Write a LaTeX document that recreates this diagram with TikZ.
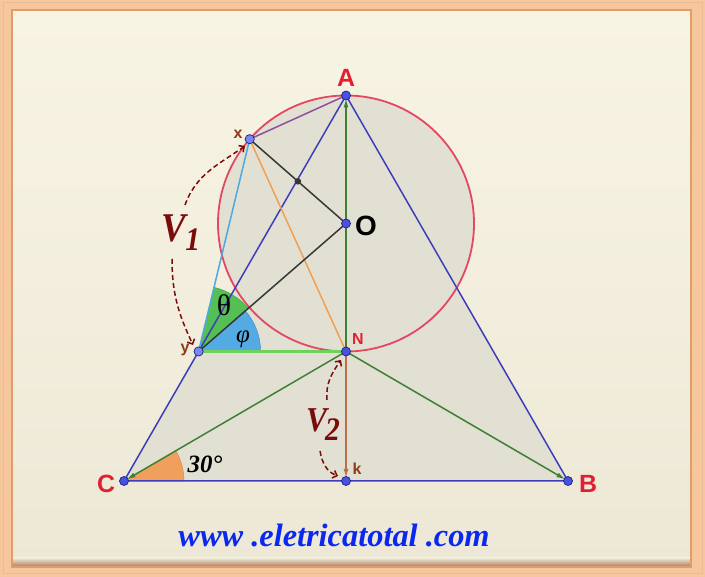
\documentclass[tikz,border=0pt]{standalone}
\usepackage{fontspec}
\setmainfont{Liberation Serif}
\newfontfamily\lsans{Liberation Sans}
\usetikzlibrary{arrows.meta,calc}
\definecolor{frameC}{RGB}{246,198,156}
\definecolor{frameD}{RGB}{226,156,106}
\definecolor{creamT}{RGB}{248,244,228}
\definecolor{creamB}{RGB}{237,232,214}
\definecolor{shadeC}{RGB}{226,224,211}
\definecolor{triB}{RGB}{62,62,186}
\definecolor{circR}{RGB}{226,72,98}
\definecolor{arrG}{RGB}{62,128,52}
\definecolor{lgreen}{RGB}{110,210,90}
\definecolor{orangeL}{RGB}{240,160,84}
\definecolor{cyanL}{RGB}{80,168,222}
\definecolor{purpL}{RGB}{140,80,160}
\definecolor{darkL}{RGB}{55,55,55}
\definecolor{brownL}{RGB}{184,112,72}
\definecolor{vred}{RGB}{122,12,12}
\definecolor{thetaG}{RGB}{84,192,84}
\definecolor{phiB}{RGB}{84,170,226}
\definecolor{angO}{RGB}{240,160,92}
\definecolor{ptB}{RGB}{72,82,224}
\definecolor{ptL}{RGB}{124,134,242}
\definecolor{ptE}{RGB}{32,32,130}
\definecolor{labR}{RGB}{226,30,50}
\definecolor{labBr}{RGB}{140,60,20}
\definecolor{webB}{RGB}{10,40,240}
\tikzset{
  seg/.style={line width=1.5bp},
  garrow/.style={seg, arrG, -{Latex[length=9bp,width=5bp]}, shorten >=3bp},
  varrow/.style={vred, line width=1.5bp, dash pattern=on 5bp off 3bp, -{Straight Barb[length=4bp,width=8bp]}},
  bigpt/.style={fill=ptB, draw=ptE, line width=0.7bp},
  litept/.style={fill=ptL, draw=ptE, line width=0.7bp},
  redlab/.style={text=labR, font=\lsans\bfseries\fontsize{25}{25}\selectfont, inner sep=0pt},
  brlab/.style={text=labBr, font=\lsans\bfseries\fontsize{16}{16}\selectfont, inner sep=0pt},
  vlab/.style={text=vred, inner sep=0pt}
}
\begin{document}
\begin{tikzpicture}[x=1bp,y=1bp]
\useasboundingbox (0,0) rectangle (705,577);
% frame
\fill[frameC] (0,0) rectangle (705,577);
\shade[top color=creamT, bottom color=creamB] (12,10) rectangle (691,567);
\shade[top color=creamB, bottom color={rgb,255:red,170;green,120;blue,88}] (12,10) rectangle (691,19);
\draw[frameD, line width=1.2bp] (12,10) rectangle (691,567);
\draw[frameD!70, line width=1bp] (3,3) rectangle (702,574);

% points
\coordinate (O) at (346,353.5);
\coordinate (A) at (346,481.5);
\coordinate (N) at (346,225.5);
\coordinate (k) at (346,96);
\coordinate (C) at (124,96);
\coordinate (B) at (568,96);
\coordinate (x) at ($(O)+(138.8:128)$);
\coordinate (y) at (198.6,225.5);
\coordinate (M) at ($(x)!0.5!(O)$);

% shaded regions
\fill[shadeC] (A) -- (B) -- (C) -- cycle;
\fill[shadeC] (O) circle (128);

% angle wedges
\fill[thetaG, draw=thetaG!80!black, line width=0.4bp] (y) -- ++(41:66) arc[start angle=41, end angle=76.5, radius=66] -- cycle;
\fill[phiB, draw=phiB!80!black, line width=0.4bp] (y) -- ++(0:62) arc[start angle=0, end angle=41, radius=62] -- cycle;
\fill[angO, draw=angO!85!black, line width=0.4bp] (C) -- ++(0:60) arc[start angle=0, end angle=30, radius=60] -- cycle;

% lines
\draw[circR, line width=1.8bp] (O) circle (128);
\draw[triB, seg] (A) -- (B) -- (C) -- cycle;
\draw[purpL, seg] (x) -- (A);
\draw[cyanL, seg] (x) -- (y);
\draw[orangeL, seg] (x) -- (N);
\draw[darkL, seg] (x) -- (O);
\draw[darkL, seg] (O) -- (y);
\draw[lgreen, line width=2.2bp] (y) -- (N);
\draw[garrow] (N) -- (A);
\draw[garrow] (N) -- (C);
\draw[garrow] (N) -- (B);
\draw[brownL, seg, -{Latex[length=9bp,width=5bp]}, shorten >=3bp] (N) -- (k);

% point markers
\foreach \p in {A,O,N,k,C,B} \filldraw[bigpt] (\p) circle (4.5);
\foreach \p in {x,y} \filldraw[litept] (\p) circle (4.6);
\fill[darkL] (M) circle (3.3);

% labels
\node[redlab] (lA) at (346,499) {A};
\node[redlab] (lB) at (588,93) {B};
\node[redlab] (lC) at (106,93) {C};
\node[redlab, text=black, font=\lsans\bfseries\fontsize{28}{28}\selectfont] (lO) at (366,351) {O};
\node[redlab, font=\lsans\bfseries\fontsize{16}{16}\selectfont] (lN) at (358,238) {N};
\node[brlab] (lx) at (238,443) {x};
\node[brlab] (ly) at (185,227) {y};
\node[brlab] (lk) at (357,108) {k};
\node[inner sep=0pt, font=\fontsize{30}{30}\selectfont] (lth) at (224,272) {θ};
\node[inner sep=0pt, font=\itshape\fontsize{25}{25}\selectfont] (lph) at (243,238) {φ};
\node[inner sep=0pt, font=\bfseries\itshape\fontsize{25}{25}\selectfont] (l30) at (205,113) {30°};

\node[vlab] (V1) at (181,344) {\scalebox{0.9}[1]{\bfseries\itshape\fontsize{41}{41}\selectfont V\kern-1bp\raisebox{-9bp}{\fontsize{33}{33}\selectfont 1}}};
\node[vlab] (V2) at (323,152) {\scalebox{0.9}[1]{\bfseries\itshape\fontsize{35}{35}\selectfont V\kern-2bp\raisebox{-9bp}{\fontsize{33}{33}\selectfont 2}}};

% dashed arrows
\coordinate (v1s) at (185,372);
\coordinate (v1e) at (245,431);
\coordinate (v1t) at (172,318);
\coordinate (v1f) at (193,232);
\coordinate (v2s) at (327,177);
\coordinate (v2e) at (341,217);
\coordinate (v2t) at (320,126);
\coordinate (v2f) at (338,101);
\draw[varrow] (v1s) to[out=70, in=215] (v1e);
\draw[varrow] (v1t) to[out=-90, in=115] (v1f);
\draw[varrow] (v2s) to[out=95, in=235] (v2e);
\draw[varrow] (v2t) to[out=-80, in=160] (v2f);

% website
\node[inner sep=0pt, text=webB, font=\bfseries\itshape\fontsize{32.5}{32.5}\selectfont] (web) at (334,42) {www .eletricatotal .com};
\end{tikzpicture}
\end{document}
